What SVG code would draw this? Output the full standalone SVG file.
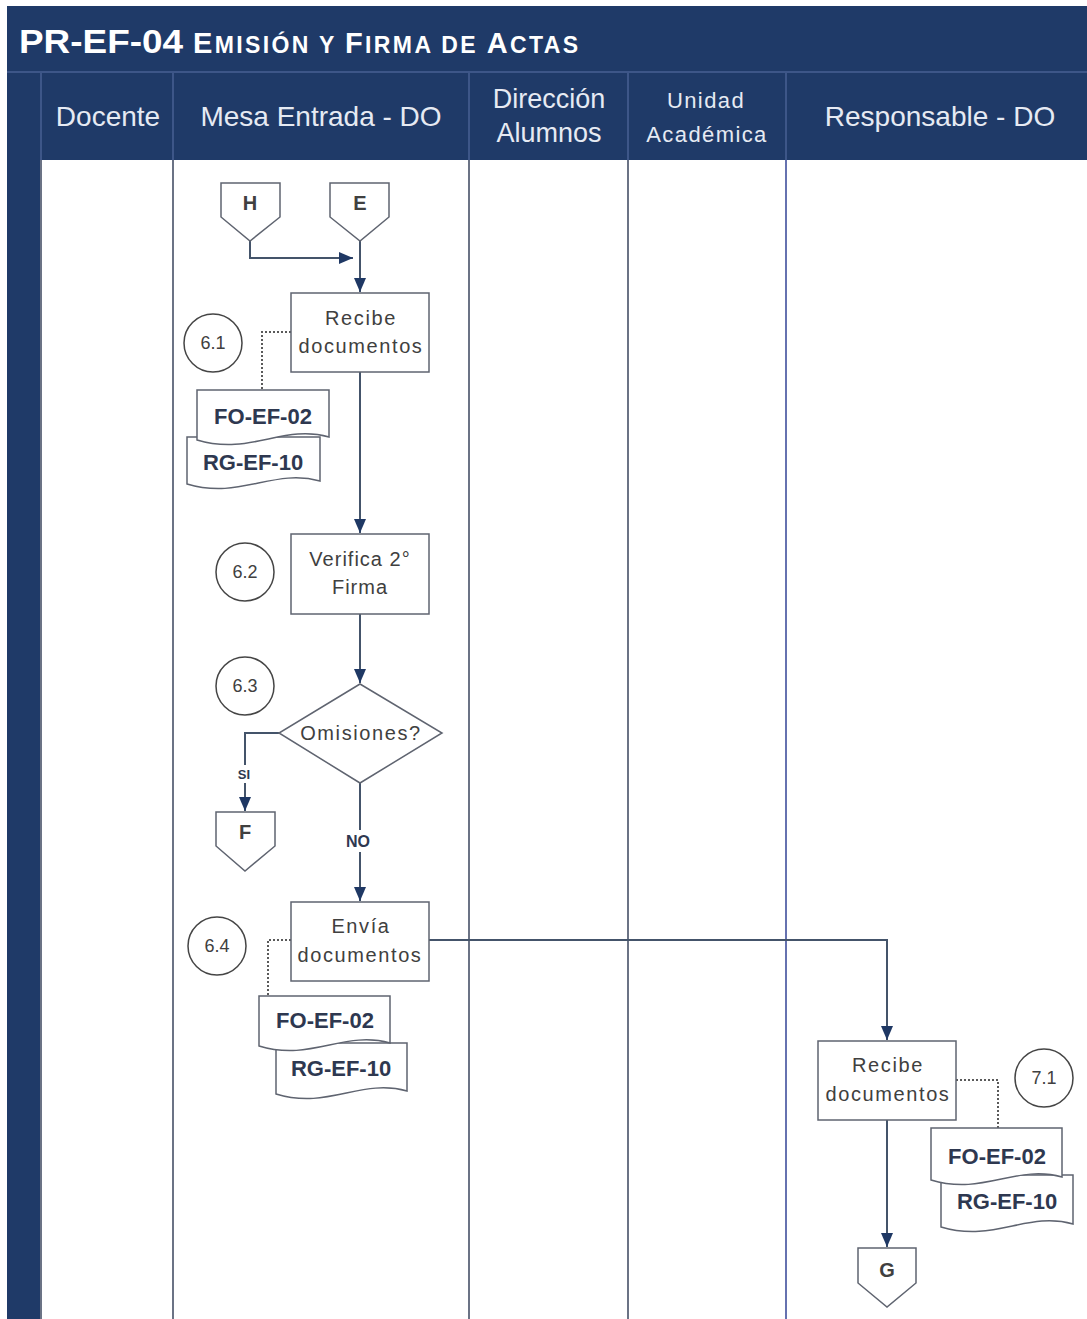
<svg xmlns="http://www.w3.org/2000/svg" width="1087" height="1319" viewBox="0 0 1087 1319">
<defs>
<marker id="arr" markerUnits="userSpaceOnUse" viewBox="0 0 14 12" markerWidth="14" markerHeight="12" refX="14" refY="6" orient="auto">
<path d="M0,0 L14,6 L0,12 Z" fill="#1f3864"/>
</marker>
<style>
.band{fill:#1f3a68}
.lane{stroke:#6b7385;stroke-width:2;fill:none}
.hdiv{stroke:#3d5688;stroke-width:2}
.hdr{font-family:"Liberation Sans",Arial,sans-serif;fill:#e6eaf3;text-anchor:middle}
.box{fill:#fff;stroke:#5f6470;stroke-width:1.5}
.bt{font-family:"Liberation Sans",Arial,sans-serif;font-size:20px;fill:#404040;text-anchor:middle;letter-spacing:1.6px}
.circ{fill:#fff;stroke:#454545;stroke-width:1.5}
.ct{font-family:"Liberation Sans",Arial,sans-serif;font-size:18px;fill:#404040;text-anchor:middle}
.doc{fill:#fff;stroke:#5f6470;stroke-width:1.5}
.dt{font-family:"Liberation Sans",Arial,sans-serif;font-size:22px;font-weight:bold;fill:#2e3850;text-anchor:middle}
.off{fill:#fff;stroke:#5f6470;stroke-width:1.5}
.ot{font-family:"Liberation Sans",Arial,sans-serif;font-size:20px;font-weight:bold;fill:#404040;text-anchor:middle}
.con{stroke:#44546a;stroke-width:2;fill:none}
.dot{stroke:#5a5a5a;stroke-width:2;fill:none;stroke-dasharray:2 2}
.lbl{font-family:"Liberation Sans",Arial,sans-serif;font-weight:bold;fill:#2e3850;text-anchor:middle}
</style>
</defs>
<rect width="1087" height="1319" fill="#fff"/>
<g id="frame">
<rect class="band" x="7" y="6" width="1080" height="154"/>
<rect class="band" x="7" y="160" width="33" height="1159"/>
<line x1="7" y1="72" x2="1087" y2="72" stroke="#3d5688" stroke-width="2"/>
<line class="hdiv" x1="41" y1="73" x2="41" y2="160"/>
<line class="hdiv" x1="173" y1="73" x2="173" y2="160"/>
<line class="hdiv" x1="469" y1="73" x2="469" y2="160"/>
<line class="hdiv" x1="628" y1="73" x2="628" y2="160"/>
<line class="hdiv" x1="786" y1="73" x2="786" y2="160"/>
<line class="lane" x1="41" y1="160" x2="41" y2="1319"/>
<line class="lane" x1="173" y1="160" x2="173" y2="1319"/>
<line class="lane" x1="469" y1="160" x2="469" y2="1319"/>
<line class="lane" x1="628" y1="160" x2="628" y2="1319"/>
<line class="lane" x1="786" y1="160" x2="786" y2="1319" style="stroke:#6672b0"/>
<text x="19" y="53" font-family="Liberation Sans,Arial,sans-serif" font-weight="bold" font-size="34" fill="#fff" textLength="164" lengthAdjust="spacingAndGlyphs">PR-EF-04</text>
<text x="193" y="53" font-family="Liberation Sans,Arial,sans-serif" font-weight="bold" fill="#fff" textLength="385" lengthAdjust="spacing"><tspan font-size="29">E</tspan><tspan font-size="23">MISIÓN Y </tspan><tspan font-size="29">F</tspan><tspan font-size="23">IRMA DE </tspan><tspan font-size="29">A</tspan><tspan font-size="23">CTAS</tspan></text>
<text class="hdr" x="108" y="126" font-size="28">Docente</text>
<text class="hdr" x="321" y="126" font-size="28">Mesa Entrada - DO</text>
<text class="hdr" x="549" y="108" font-size="27">Dirección</text>
<text class="hdr" x="549" y="142" font-size="27">Alumnos</text>
<text class="hdr" x="706" y="108" font-size="22" letter-spacing="1.4">Unidad</text>
<text class="hdr" x="707" y="142" font-size="22" letter-spacing="1.4">Académica</text>
<text class="hdr" x="940" y="126" font-size="28">Responsable - DO</text>
</g>
<g id="connectors">
<path class="con" d="M250,241 V258 H353" marker-end="url(#arr)"/>
<path class="con" d="M360,241 V292" marker-end="url(#arr)"/>
<path class="con" d="M360,372 V533" marker-end="url(#arr)"/>
<path class="con" d="M360,614 V683" marker-end="url(#arr)"/>
<path class="con" d="M279,733 H245 V811" marker-end="url(#arr)"/>
<path class="con" d="M360,783 V901" marker-end="url(#arr)"/>
<path class="con" d="M429,940 H887 V1040" marker-end="url(#arr)"/>
<path class="con" d="M887,1119 V1247" marker-end="url(#arr)"/>
<path class="dot" d="M291,332 H262 V390"/>
<path class="dot" d="M291,940 H268 V996"/>
<path class="dot" d="M956,1080 H998 V1128"/>
<rect x="235" y="765" width="20" height="18" fill="#fff"/>
<text class="lbl" x="244" y="779" font-size="13">SI</text>
<rect x="344" y="830" width="30" height="22" fill="#fff"/>
<text class="lbl" x="358" y="847" font-size="16">NO</text>
</g>
<g id="H">
<path class="off" d="M221,183 H280 V217 L250,241 L221,217 Z"/>
<text class="ot" x="250" y="210">H</text>
</g>
<g id="E">
<path class="off" d="M330,183 H389 V217 L360,241 L330,217 Z"/>
<text class="ot" x="360" y="210">E</text>
</g>
<g id="n61">
<rect class="box" x="291" y="293" width="138" height="79"/>
<text class="bt" x="361" y="325">Recibe</text>
<text class="bt" x="361" y="353">documentos</text>
<circle class="circ" cx="213" cy="343" r="29"/>
<text class="ct" x="213" y="349">6.1</text>
<path class="doc" d="M187,437 H320 V481 C273,468 240,500 187,484 Z"/>
<text class="dt" x="253" y="470">RG-EF-10</text>
<path class="doc" d="M197,390 H329 V437 C283,424 250,456 197,440 Z"/>
<text class="dt" x="263" y="424">FO-EF-02</text>
</g>
<g id="n62">
<rect class="box" x="291" y="534" width="138" height="80"/>
<text class="bt" x="360" y="566" style="letter-spacing:1px">Verifica 2°</text>
<text class="bt" x="360" y="594" style="letter-spacing:1px">Firma</text>
<circle class="circ" cx="245" cy="572" r="29"/>
<text class="ct" x="245" y="578">6.2</text>
</g>
<g id="n63">
<path class="box" d="M360,684 L442,733 L360,783 L279,733 Z"/>
<text class="bt" x="361" y="740">Omisiones?</text>
<circle class="circ" cx="245" cy="686" r="29"/>
<text class="ct" x="245" y="692">6.3</text>
</g>
<g id="F">
<path class="off" d="M216,812 H275 V846 L245,871 L216,846 Z"/>
<text class="ot" x="245" y="839">F</text>
</g>
<g id="n64">
<rect class="box" x="291" y="902" width="138" height="79"/>
<text class="bt" x="361" y="933">Envía</text>
<text class="bt" x="360" y="962">documentos</text>
<circle class="circ" cx="217" cy="946" r="29"/>
<text class="ct" x="217" y="952">6.4</text>
<path class="doc" d="M276,1043 H407 V1091 C361,1078 328,1110 276,1094 Z"/>
<text class="dt" x="341" y="1076">RG-EF-10</text>
<path class="doc" d="M259,996 H390 V1043 C344,1030 311,1062 259,1046 Z"/>
<text class="dt" x="325" y="1028">FO-EF-02</text>
</g>
<g id="n71">
<rect class="box" x="818" y="1041" width="138" height="79"/>
<text class="bt" x="888" y="1072">Recibe</text>
<text class="bt" x="888" y="1101">documentos</text>
<circle class="circ" cx="1044" cy="1078" r="29"/>
<text class="ct" x="1044" y="1084">7.1</text>
<path class="doc" d="M941,1175 H1073 V1224 C1027,1211 994,1243 941,1227 Z"/>
<text class="dt" x="1007" y="1209">RG-EF-10</text>
<path class="doc" d="M931,1128 H1062 V1177 C1016,1164 983,1196 931,1180 Z"/>
<text class="dt" x="997" y="1164">FO-EF-02</text>
</g>
<g id="G">
<path class="off" d="M858,1248 H916 V1283 L887,1307 L858,1283 Z"/>
<text class="ot" x="887" y="1277">G</text>
</g>
</svg>
